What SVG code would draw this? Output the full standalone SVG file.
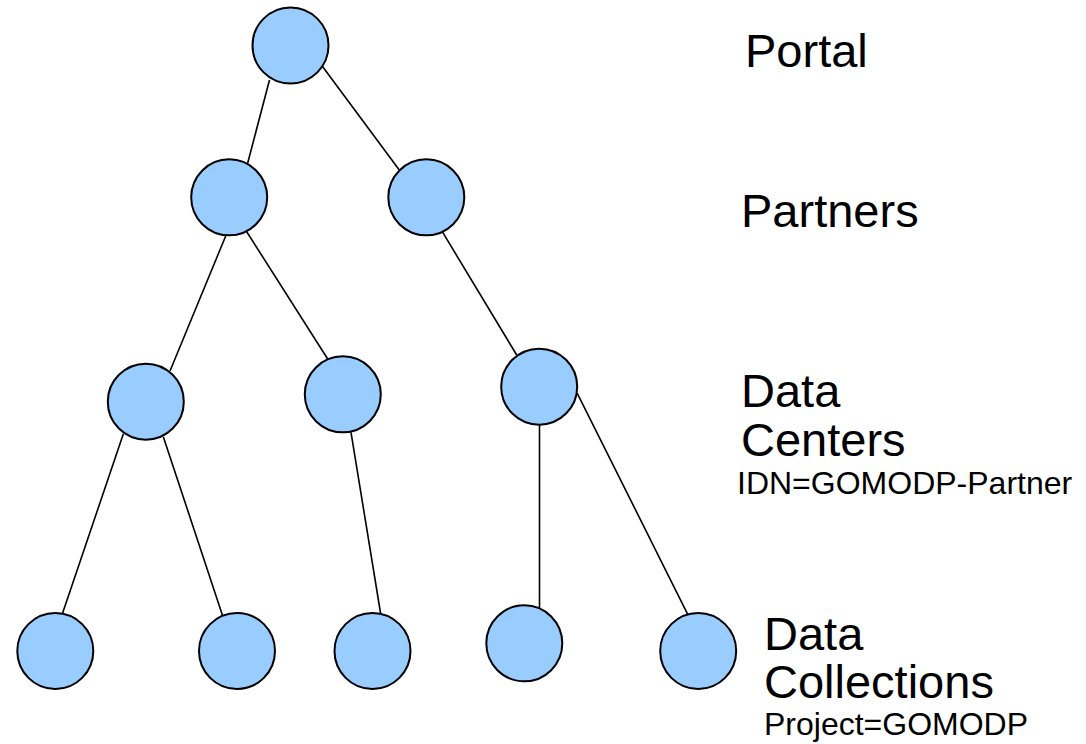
<svg xmlns="http://www.w3.org/2000/svg" width="1086" height="744" viewBox="0 0 1086 744">
<style>
.n{fill:#99ccff;stroke:#000;stroke-width:2}
.e{stroke:#000;stroke-width:1.6;fill:none}
.big{font-family:"Liberation Sans",Arial,sans-serif;font-size:47px;fill:#000}
.small{font-family:"Liberation Sans",Arial,sans-serif;font-size:32px;fill:#000}
</style>
<rect width="1086" height="744" fill="#fff"/>
<g id="connectors">
<line class="e" x1="269.5" y1="80" x2="247.7" y2="163"/>
<line class="e" x1="322.7" y1="66.7" x2="399.3" y2="170"/>
<line class="e" x1="225.7" y1="236" x2="170" y2="371"/>
<line class="e" x1="246.7" y1="231.7" x2="327.7" y2="359"/>
<line class="e" x1="442.3" y1="231.7" x2="516.7" y2="355"/>
<line class="e" x1="123.3" y1="434" x2="62.3" y2="614"/>
<line class="e" x1="163.3" y1="436.7" x2="222.7" y2="616"/>
<line class="e" x1="351" y1="432.3" x2="380.7" y2="614"/>
<line class="e" x1="539.5" y1="424.5" x2="539.5" y2="608"/>
<line class="e" x1="577.3" y1="393.3" x2="687.7" y2="614.3"/>
</g>
<g id="portal"><circle class="n" cx="290.5" cy="45.5" r="38"/></g>
<g id="partner1"><circle class="n" cx="229.2" cy="197.3" r="38"/></g>
<g id="partner2"><circle class="n" cx="426.3" cy="197.3" r="38"/></g>
<g id="center1"><circle class="n" cx="145.8" cy="401.7" r="38"/></g>
<g id="center2"><circle class="n" cx="342.8" cy="394.3" r="38"/></g>
<g id="center3"><circle class="n" cx="539.2" cy="386.7" r="38"/></g>
<g id="coll1"><circle class="n" cx="55.3" cy="651" r="38"/></g>
<g id="coll2"><circle class="n" cx="237" cy="651" r="38"/></g>
<g id="coll3"><circle class="n" cx="372.5" cy="651" r="38"/></g>
<g id="coll4"><circle class="n" cx="524.3" cy="643.3" r="38"/></g>
<g id="coll5"><circle class="n" cx="698.2" cy="651" r="38"/></g>
<g id="labels">
<text class="big" x="745" y="67">Portal</text>
<text class="big" x="741" y="227">Partners</text>
<text class="big" x="741" y="407">Data</text>
<text class="big" x="741" y="456">Centers</text>
<text class="small" x="737" y="494">IDN=GOMODP-Partner</text>
<text class="big" x="764" y="650">Data</text>
<text class="big" x="764" y="698">Collections</text>
<text class="small" x="764" y="735">Project=GOMODP</text>
</g>
</svg>
